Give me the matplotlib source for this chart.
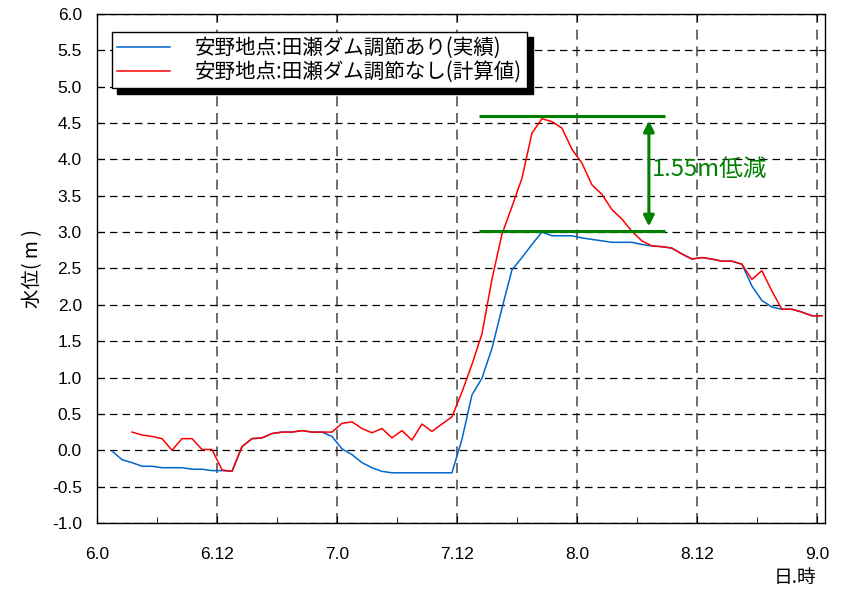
import matplotlib
matplotlib.use("Agg")
import matplotlib.pyplot as plt
from matplotlib.ticker import MultipleLocator
import numpy as np

plt.rcParams['font.family'] = ['Liberation Sans Narrow', 'Liberation Sans', 'Noto Sans CJK JP', 'DejaVu Sans']
jp = ['Noto Sans CJK JP', 'DejaVu Sans']

# water level (m), hourly, plotted at mid-hour from 6.0
blue_start = 1.5
blue_vals = [
    -0.01, -0.13, -0.17, -0.22, -0.22, -0.24, -0.24, -0.24, -0.26, -0.26,
    -0.28, -0.28, -0.29, 0.05, 0.16, 0.17, 0.23, 0.25, 0.25, 0.27,
    0.25, 0.25, 0.19, 0.02, -0.06, -0.17, -0.24, -0.29, -0.31, -0.31,
    -0.31, -0.31, -0.31, -0.31, -0.31, 0.15, 0.76, 0.99, 1.40, 1.95,
    2.48, 2.65, 2.83, 3.00, 2.95, 2.95, 2.95, 2.92, 2.90, 2.88,
    2.86, 2.86, 2.86, 2.83, 2.81, 2.80, 2.78, 2.70, 2.63, 2.65,
    2.63, 2.60, 2.60, 2.56, 2.26, 2.06, 1.97, 1.94, 1.94, 1.90,
    1.85, 1.85,
]
red_start = 3.5
red_vals = [
    0.25, 0.21, 0.19, 0.16, 0.00, 0.16, 0.16, 0.01, 0.01, -0.27,
    -0.29, 0.05, 0.16, 0.17, 0.23, 0.25, 0.25, 0.27, 0.25, 0.25,
    0.25, 0.37, 0.39, 0.30, 0.24, 0.30, 0.17, 0.27, 0.14, 0.36,
    0.26, 0.36, 0.46, 0.80, 1.18, 1.60, 2.35, 2.97, 3.35, 3.74,
    4.36, 4.56, 4.52, 4.43, 4.14, 3.95, 3.65, 3.52, 3.31, 3.18,
    3.01, 2.88, 2.81, 2.80, 2.78, 2.70, 2.63, 2.65, 2.63, 2.60,
    2.60, 2.56, 2.35, 2.47, 2.19, 1.94, 1.94, 1.90, 1.85, 1.85,
]
blue_x = blue_start + np.arange(len(blue_vals))
red_x = red_start + np.arange(len(red_vals))

xtick_pos = [0, 12, 24, 36, 48, 60, 72]
xtick_labels = ['6.0', '6.12', '7.0', '7.12', '8.0', '8.12', '9.0']

peak_level = 4.60
reduced_level = 3.01
reduction_text = '1.55m低減'

fig = plt.figure(figsize=(8.46, 5.90), dpi=100)
ax = fig.add_axes([0.1147, 0.1136, 0.8603, 0.8627])

ax.plot(blue_x, blue_vals, color='#0066cc', lw=1.1, label='安野地点:田瀬ダム調節あり(実績)')
ax.plot(red_x, red_vals, color='#ff0000', lw=1.1, label='安野地点:田瀬ダム調節なし(計算値)')

# annotation: reduction
ax.hlines([peak_level, reduced_level], 38.2, 56.8, colors='green', lw=2.2)
ax.annotate('', xy=(55.2, reduced_level + 0.03), xytext=(55.2, peak_level - 0.03),
            arrowprops=dict(arrowstyle='<|-|>', color='green', lw=2.2, mutation_scale=16))
ax.text(55.5, 3.86, reduction_text, color='green', fontsize=17, va='center', ha='left', family=jp)

ax.set_xlim(0, 72.8)
ax.set_ylim(-1.0, 6.0)
ax.set_xticks(xtick_pos)
ax.set_xticklabels(xtick_labels)
ax.xaxis.set_minor_locator(MultipleLocator(6))
ax.yaxis.set_major_locator(MultipleLocator(0.5))
ax.yaxis.set_major_formatter(matplotlib.ticker.FormatStrFormatter('%.1f'))

ax.tick_params(which='both', direction='in', top=True, right=True, labelsize=12.5)
ax.tick_params(axis='x', which='major', length=5, pad=17)
ax.tick_params(axis='x', which='minor', length=4, top=False)
ax.tick_params(axis='y', which='major', length=5, pad=11)

ax.grid(axis='x', which='major', color='#555555', lw=1.2, linestyle=(0, (6, 4)))
ax.grid(axis='y', which='major', color='black', lw=0.9, linestyle=(0, (6, 4)))
for s in ax.spines.values():
    s.set_linewidth(1.0)

ax.set_ylabel('水位( m )', fontsize=14, family=jp, labelpad=6)
fig.text(0.94, 0.004, '日.時', fontsize=13.5, family=jp, ha='center', va='bottom')

leg = ax.legend(loc='upper left', bbox_to_anchor=(0.02, 0.965), borderaxespad=0,
                fancybox=False, edgecolor='black', framealpha=1,
                shadow={'color': 'black', 'alpha': 1, 'ox': 4, 'oy': -4},
                handlelength=2.6, handletextpad=1.2, borderpad=0.25, labelspacing=0.1,
                prop={'family': jp, 'size': 14.8})
leg.get_frame().set_linewidth(1.0)

fig.savefig('out.png', dpi=100)
